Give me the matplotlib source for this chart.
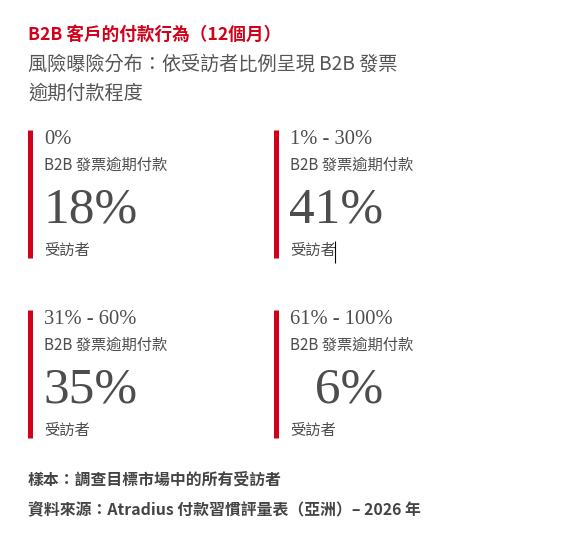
import matplotlib.pyplot as plt

plt.rcParams['font.family'] = ['Noto Sans CJK TC', 'DejaVu Sans']

# 數據
ranges = ["0%", "1% - 30%", "31% - 60%", "61% - 100%"]
shares = [18, 41, 35, 6]
share_labels = ["18%", "41%", "35%", "\u20076%"]
invoice_label = "B2B 發票逾期付款"
respondent_label = "受訪者"

title = "B2B 客戶的付款行為（12個月）"
subtitle = ["風險曝險分布：依受訪者比例呈現 B2B 發票", "逾期付款程度"]
notes = ["樣本：調查目標市場中的所有受訪者",
         "資料來源：Atradius 付款習慣評量表（亞洲）– 2026 年"]

RED = "#d0021b"
GRAY = "#4d4d4d"

W, H = 564, 536
fig = plt.figure(figsize=(W / 100, H / 100), dpi=100)
ax = fig.add_axes([0, 0, 1, 1])
ax.set_xlim(0, W)
ax.set_ylim(H, 0)
ax.axis("off")

ax.text(28, 35, title, color=RED, fontsize=12.7, fontweight="bold", va="center")
for i, line in enumerate(subtitle):
    ax.text(28, 64 + i * 29, line, color="#555555", fontsize=13.8, va="center")

# 四個區塊：左上、右上、左下、右下
col_x = [27, 273]
row_y = [130, 310]
for i, (rng, lab) in enumerate(zip(ranges, share_labels)):
    x0 = col_x[i % 2]
    y0 = row_y[i // 2]
    ax.vlines(x0 + 2.5, y0, y0 + 128, color=RED, linewidth=3.6)
    tx = x0 + 17
    ax.text(tx, y0 + 10, rng, color=GRAY, fontsize=14.8,
            family="Liberation Serif", va="center")
    ax.text(tx, y0 + 35, invoice_label, color=GRAY, fontsize=11, va="center")
    ax.text(tx - 1, y0 + 80, lab, color=GRAY, fontsize=37,
            family="Liberation Serif", va="center")
    ax.text(tx, y0 + 120, respondent_label, color=GRAY, fontsize=11, va="center")

# 游標
ax.vlines(335, 241, 263, color="black", linewidth=0.8)

for i, line in enumerate(notes):
    ax.text(28, 480 + i * 30, line, color="#444444", fontsize=11.4,
            fontweight="bold", va="center")

fig.savefig("out.png", dpi=100)
